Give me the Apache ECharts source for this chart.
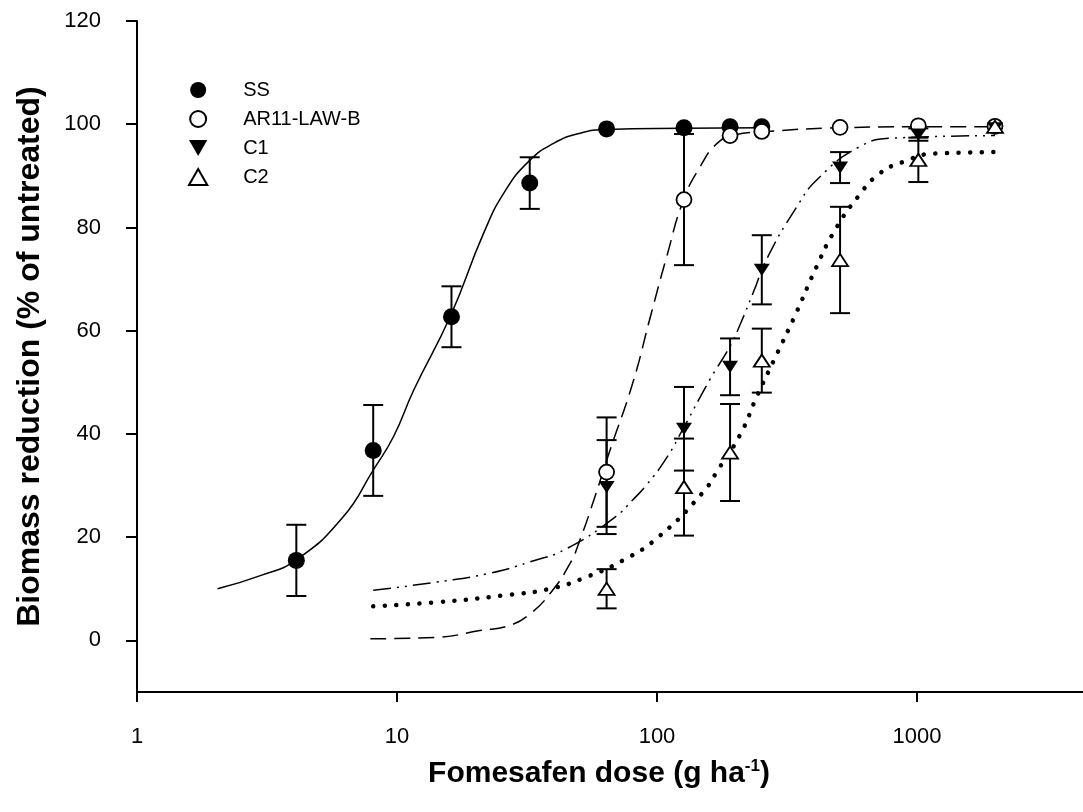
<!DOCTYPE html>
<html>
<head>
<meta charset="utf-8">
<script src="https://cdn.jsdelivr.net/npm/echarts@6/dist/echarts.min.js"></script>
<style>
html, body { margin: 0; padding: 0; background: #fff; }
#chart { width: 1083px; height: 812px; }
</style>
</head>
<body>
<div id="chart"></div>
<script>
// doses, g ha-1
const doseSS = [4.1, 8.1, 16.2, 32.4, 64, 127, 191, 253]
const dose = [64, 127, 191, 253, 506, 1012, 1995]

// means and standard errors
const ssMean = [15.5, 36.8, 62.7, 88.6, 99.1, 99.3, 99.5, 99.5]
const ssErr = [6.9, 8.8, 5.9, 5.0, 0, 0, 0, 0]
const arMean = [32.6, 85.4, 97.8, 98.6, 99.4, 99.7, 99.6]
const arErr = [10.6, 12.7, 0, 0, 0, 0, 0]
const c1Mean = [29.7, 41.0, 53.0, 71.8, 91.6, 98.0, 99.2]
const c1Err = [9.1, 8.1, 5.5, 6.7, 3.0, 1.2, 0]
const c2Mean = [10.0, 29.7, 36.4, 54.2, 73.7, 93.1, 99.5]
const c2Err = [3.8, 9.4, 9.4, 6.2, 10.3, 4.3, 0]

// fitted curves [dose, %]
const ssFit = [[2.04, 10], [3, 12.6], [4.1, 15.6], [6.2, 23.9], [8.1, 33], [9.7, 39.5], [11.6, 48.5], [16.1, 63], [21.5, 78.8], [26, 87], [32.4, 93], [40, 96.3], [50, 98.2], [64, 99], [127, 99.2], [253, 99.3]]
const arFit = [[7.9, 0.3], [14.2, 0.6], [20.8, 1.9], [27.1, 2.9], [32.6, 5.2], [38.8, 9.1], [46.3, 14.9], [50.5, 19.4], [57, 27], [65.9, 36.8], [80.6, 49.8], [94.3, 62.7], [108.9, 74.3], [126.4, 85.3], [146.6, 91.8], [170.3, 96.3], [197.6, 97.9], [250, 98.5], [500, 99.3], [1000, 99.5], [1995, 99.5]]
const c1Fit = [[8.1, 9.7], [14.2, 11.3], [22.2, 12.9], [32.4, 15.2], [45, 17.8], [69, 23.9], [80.6, 27.2], [91.5, 30.2], [109, 35.4], [126, 41], [160, 50.6], [191, 57], [210, 61.5], [235, 67.5], [265, 74], [345, 84], [417, 89.5], [604, 95.7], [808, 97.3], [1995, 97.8]]
const c2Fit = [[8.1, 6.6], [14.2, 7.4], [25.6, 8.7], [38.8, 10], [53.7, 12.3], [74, 15.5], [100, 19.8], [148.6, 28.4], [173, 33.3], [209.6, 40], [241.8, 47.2], [280, 54], [340, 63], [411, 72.4], [480, 79.2], [594, 86], [720, 90.5], [886, 92.7], [1155, 94.3], [1995, 94.6]]

const xTicks = [1, 10, 100, 1000]
const yTicks = [0, 20, 40, 60, 80, 100, 120]

const font = 'Liberation Sans, Arial, sans-serif'
const downTri = 'path://M0,0 L16,0 L8,14 Z'
const upTri = 'path://M8,0 L16,14 L0,14 Z'

function pairs(xs, ys) {
	return xs.map((x, i) => [x, ys[i]])
}

function errorBars(xs, means, errs) {
	const data = []
	xs.forEach((x, i) => {
		if (errs[i] > 0) data.push([x, means[i] - errs[i], means[i] + errs[i]])
	})
	return {
		type: 'custom',
		silent: true,
		z: 3,
		encode: { x: 0, y: [1, 2] },
		data: data,
		renderItem(params, api) {
			const lo = api.coord([api.value(0), api.value(1)])
			const hi = api.coord([api.value(0), api.value(2)])
			const w = 10
			const style = { stroke: '#000', lineWidth: 2 }
			return {
				type: 'group',
				children: [
					{ type: 'line', shape: { x1: lo[0], y1: lo[1], x2: hi[0], y2: hi[1] }, style: style },
					{ type: 'line', shape: { x1: lo[0] - w, y1: lo[1], x2: lo[0] + w, y2: lo[1] }, style: style },
					{ type: 'line', shape: { x1: hi[0] - w, y1: hi[1], x2: hi[0] + w, y2: hi[1] }, style: style }
				]
			}
		}
	}
}

function fitLine(data, lineStyle) {
	return {
		type: 'line',
		data: data,
		showSymbol: false,
		silent: true,
		smooth: 0.5,
		z: 2,
		lineStyle: Object.assign({ color: '#000', width: 1.5 }, lineStyle)
	}
}

const myChart = echarts.init(document.getElementById('chart'))

const option = {
	animation: false,
	backgroundColor: '#fff',
	grid: { left: 137, right: 0, top: 21, bottom: 120, outerBoundsMode: 'none' },
	legend: {
		data: ['SS', 'AR11-LAW-B', 'C1', 'C2'],
		orient: 'vertical',
		left: 183,
		top: 75,
		itemWidth: 80,
		itemHeight: 16,
		itemGap: 9,
		symbolKeepAspect: true,
		textStyle: { fontSize: 20, color: '#000', fontFamily: font }
	},
	xAxis: {
		type: 'log',
		logBase: 10,
		min: 1,
		max: 4350,
		name: 'Fomesafen dose (g ha{sup|-1})',
		nameLocation: 'middle',
		nameGap: 66,
		nameTextStyle: {
			fontSize: 30, fontWeight: 'bold', color: '#000', fontFamily: font,
			padding: [0, 22, 0, 0],
			rich: { sup: { fontSize: 17, fontWeight: 'bold', color: '#000', fontFamily: font, padding: [0, 0, 14, 0] } }
		},
		axisLine: { onZero: false, lineStyle: { color: '#000', width: 2 } },
		axisTick: { inside: false, length: 10, customValues: xTicks, lineStyle: { color: '#000', width: 2 } },
		axisLabel: { fontSize: 22, color: '#000', fontFamily: font, margin: 34, customValues: xTicks, formatter: v => String(v) },
		splitLine: { show: false },
		minorTick: { show: false }
	},
	yAxis: {
		type: 'value',
		min: -10,
		max: 120,
		name: 'Biomass reduction (% of untreated)',
		nameLocation: 'middle',
		nameGap: 91,
		nameTextStyle: { fontSize: 32, fontWeight: 'bold', color: '#000', fontFamily: font },
		axisLine: { show: true, onZero: false, lineStyle: { color: '#000', width: 2 } },
		axisTick: { show: true, length: 11, customValues: yTicks, lineStyle: { color: '#000', width: 2 } },
		axisLabel: { fontSize: 22, color: '#000', fontFamily: font, margin: 36, customValues: yTicks },
		splitLine: { show: false }
	},
	series: [
		fitLine(ssFit, { type: 'solid' }),
		fitLine(arFit, { type: [16, 8] }),
		fitLine(c1Fit, { type: [18, 6, 2, 6, 2, 6] }),
		fitLine(c2Fit, { type: [0.1, 11.5], width: 4.5, cap: 'round' }),
		errorBars(doseSS, ssMean, ssErr),
		errorBars(dose, arMean, arErr),
		errorBars(dose, c1Mean, c1Err),
		errorBars(dose, c2Mean, c2Err),
		{
			name: 'SS', type: 'scatter', z: 5, data: pairs(doseSS, ssMean),
			symbol: 'circle', symbolSize: 17,
			itemStyle: { color: '#000', opacity: 1 }
		},
		{
			name: 'AR11-LAW-B', type: 'scatter', z: 5, data: pairs(dose, arMean),
			symbol: 'circle', symbolSize: 15,
			itemStyle: { color: '#fff', borderColor: '#000', borderWidth: 1.8, opacity: 1 }
		},
		{
			name: 'C1', type: 'scatter', z: 5, data: pairs(dose, c1Mean),
			symbol: downTri, symbolSize: [16, 14], symbolKeepAspect: true,
			itemStyle: { color: '#000', opacity: 1 }
		},
		{
			name: 'C2', type: 'scatter', z: 5, data: pairs(dose, c2Mean),
			symbol: upTri, symbolSize: [16, 14], symbolKeepAspect: true,
			itemStyle: { color: '#fff', borderColor: '#000', borderWidth: 1.8, opacity: 1 }
		}
	]
}

myChart.setOption(option)
window.onresize = function () {
	myChart.resize()
}
</script>
</body>
</html>
